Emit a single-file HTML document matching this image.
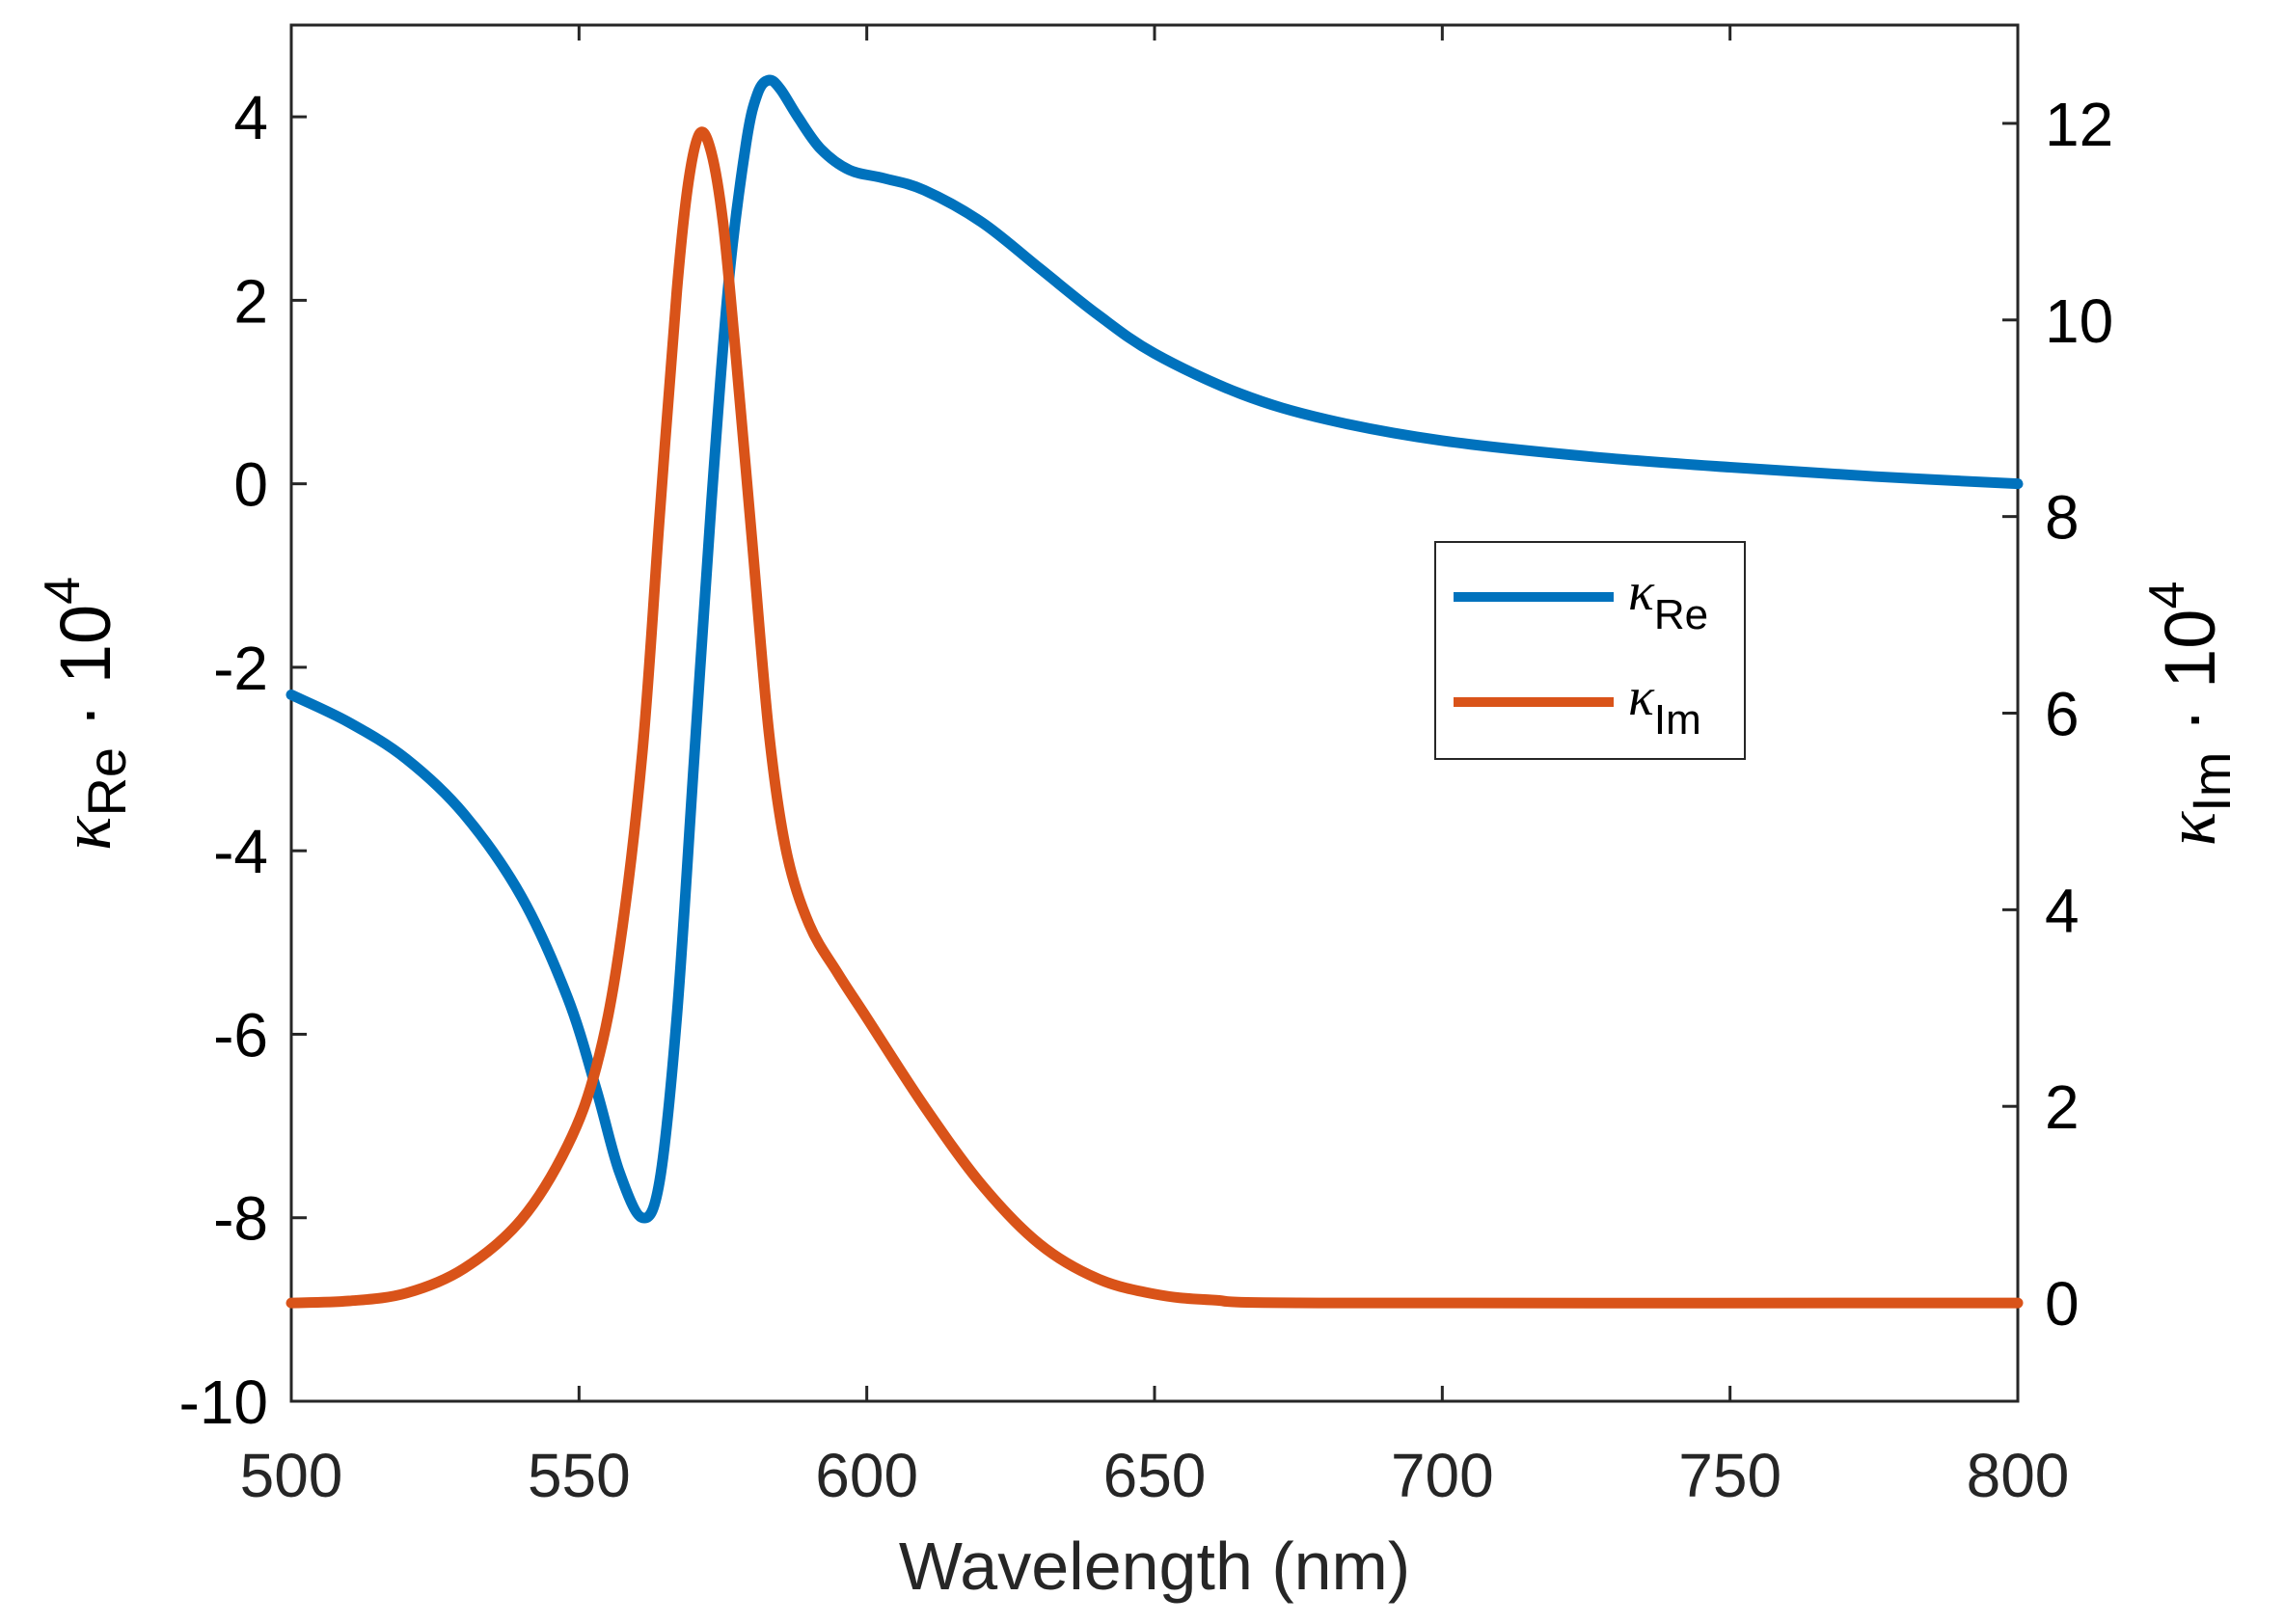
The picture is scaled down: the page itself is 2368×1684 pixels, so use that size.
<!DOCTYPE html>
<html><head><meta charset="utf-8"><style>
html,body{margin:0;padding:0;background:#fff;}
svg{display:block;}
text{font-family:"Liberation Sans",sans-serif;}
</style></head><body>
<svg id="s" width="2368" height="1684" xmlns="http://www.w3.org/2000/svg">
<rect width="2368" height="1684" fill="#fff"/>
<g id="ax" stroke="#262626" stroke-width="3" fill="none"></g>
<g id="cur" fill="none" stroke-width="11" stroke-linejoin="round" stroke-linecap="round"></g>
<g id="lab" fill="#000" font-size="64"></g>
<text x="1197" y="1648" font-size="70" text-anchor="middle" fill="#262626">Wavelength (nm)</text>
<g transform="translate(114,740) rotate(-90)">
<text x="0" y="0" font-size="74" text-anchor="middle" fill="#000"><tspan font-family="Liberation Serif" font-style="italic">κ</tspan><tspan font-size="56" dy="16">Re</tspan><tspan dy="-16"> · 10</tspan><tspan font-size="52" dy="-32">4</tspan></text>
</g>
<g transform="translate(2296,740) rotate(-90)">
<text x="0" y="0" font-size="74" text-anchor="middle" fill="#000"><tspan font-family="Liberation Serif" font-style="italic">κ</tspan><tspan font-size="56" dy="16">Im</tspan><tspan dy="-16"> · 10</tspan><tspan font-size="52" dy="-32">4</tspan></text>
</g>
<rect x="1488" y="562" width="321" height="225" fill="#fff" stroke="#262626" stroke-width="2"/>
<line x1="1507" y1="619" x2="1673" y2="619" stroke="#0072BD" stroke-width="10"/>
<line x1="1507" y1="728" x2="1673" y2="728" stroke="#D95319" stroke-width="10"/>
<text x="1688" y="632" font-size="56"><tspan font-family="Liberation Serif" font-style="italic">κ</tspan><tspan font-size="44" dy="20">Re</tspan></text>
<text x="1688" y="741" font-size="56"><tspan font-family="Liberation Serif" font-style="italic">κ</tspan><tspan font-size="44" dy="20">Im</tspan></text>
</svg>
<script>
var L=302,R=2092,T=26,B=1453;
function X(w){return L+(w-500)/300*(R-L);}
function YL(v){return T+(5-v)/15*(B-T);}
function YR(v){return T+(13-v)/14*(B-T);}
var NS="http://www.w3.org/2000/svg";
function el(p,n,a,t){var e=document.createElementNS(NS,n);for(var k in a)e.setAttribute(k,a[k]);if(t!==undefined)e.textContent=t;document.getElementById(p).appendChild(e);return e;}
el("ax","rect",{x:L,y:T,width:R-L,height:B-T});
for(var w=500;w<=800;w+=50){var x=X(w);el("ax","line",{x1:x,y1:B,x2:x,y2:B-16});el("ax","line",{x1:x,y1:T,x2:x,y2:T+16});
el("lab","text",{x:x,y:1552,"text-anchor":"middle",fill:"#262626"},w);}
for(var v=-10;v<=4;v+=2){var y=YL(v);el("ax","line",{x1:L,y1:y,x2:L+16,y2:y});el("lab","text",{x:278,y:y+23,"text-anchor":"end"},v);}
for(var v=0;v<=12;v+=2){var y=YR(v);el("ax","line",{x1:R,y1:y,x2:R-16,y2:y});el("lab","text",{x:2120,y:y+23,"text-anchor":"start"},v);}
function spline(pts){
 var d="M"+pts[0][0]+","+pts[0][1];
 for(var i=0;i<pts.length-1;i++){var p0=pts[Math.max(0,i-1)],p1=pts[i],p2=pts[i+1],p3=pts[Math.min(pts.length-1,i+2)];
 d+=" C"+(p1[0]+(p2[0]-p0[0])/6)+","+(p1[1]+(p2[1]-p0[1])/6)+" "+(p2[0]-(p3[0]-p1[0])/6)+","+(p2[1]-(p3[1]-p1[1])/6)+" "+p2[0]+","+p2[1];}
 return d;}
var blue=[[500,-2.3],[510,-2.6],[520,-3.0],[530,-3.6],[540,-4.5],[548,-5.6],[553,-6.6],[557,-7.5],[561,-8.0],[564,-7.6],[567,-5.8],[570,-3.0],[573,-0.2],[576,2.2],[579,3.7],[581,4.25],[583,4.4],[585,4.3],[588,4.0],[592,3.65],[597,3.42],[603,3.33],[610,3.2],[620,2.85],[630,2.35],[640,1.85],[650,1.42],[665,0.98],[680,0.7],[700,0.47],[725,0.3],[750,0.18],[775,0.08],[800,0.0]];
var org=[[500,0.0],[510,0.02],[520,0.1],[530,0.35],[540,0.85],[548,1.6],[553,2.4],[557,3.6],[561,5.6],[564,8.0],[567,10.3],[569,11.4],[571,11.9],[573,11.7],[575,11.0],[577,9.8],[580,7.8],[583,5.8],[586,4.6],[590,3.85],[595,3.35],[600,2.9],[610,2.0],[620,1.2],[630,0.6],[640,0.25],[650,0.09],[660,0.03],[680,0.0],[800,0.0]];
el("cur","path",{d:spline(blue.map(function(p){return[X(p[0]),YL(p[1])];})),stroke:"#0072BD"});
el("cur","path",{d:spline(org.map(function(p){return[X(p[0]),YR(p[1])];})),stroke:"#D95319"});
</script>
</body></html>
